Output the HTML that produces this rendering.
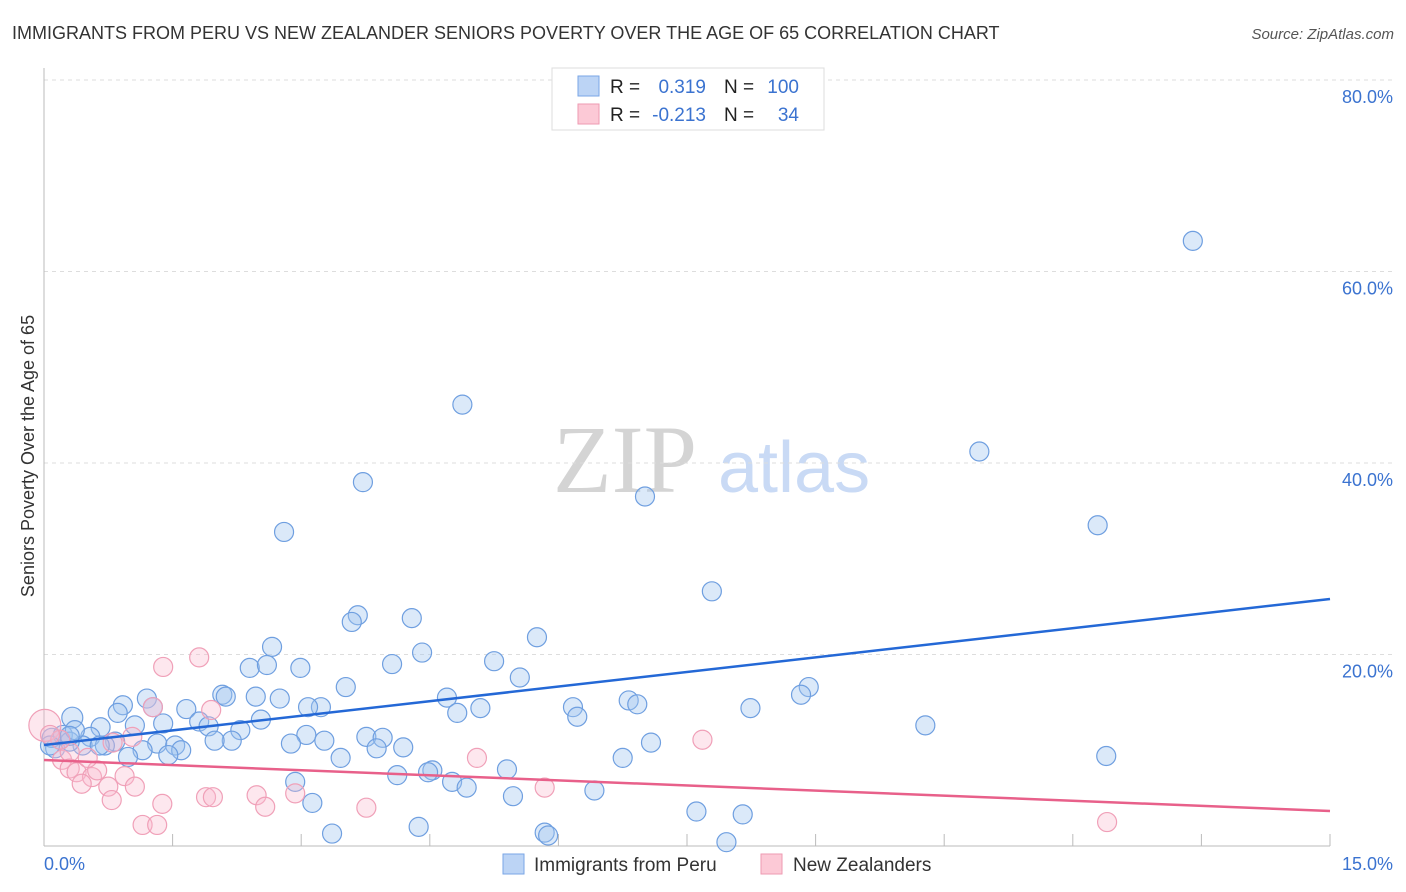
<!DOCTYPE html>
<html><head><meta charset="utf-8"><style>
body{margin:0;background:#fff;font-family:"Liberation Sans",sans-serif}
#wrap{position:relative;width:1406px;height:892px;overflow:hidden}
svg text{font-family:"Liberation Sans",sans-serif}
</style></head><body>
<div id="wrap">
<svg id="c" width="1406" height="892">
<text x="12" y="39" font-size="18" fill="#333">IMMIGRANTS FROM PERU VS NEW ZEALANDER SENIORS POVERTY OVER THE AGE OF 65 CORRELATION CHART</text>
<text x="1394" y="39" font-size="15" fill="#555" font-style="italic" text-anchor="end">Source: ZipAtlas.com</text>
<text x="34" y="456" font-size="18" fill="#333" text-anchor="middle" transform="rotate(-90 34 456)">Seniors Poverty Over the Age of 65</text>
<text x="553" y="492" font-size="96" fill="#d4d4d4" style="font-family:'Liberation Serif',serif">ZIP</text>
<text x="718" y="492" font-size="72" fill="#c9daf5">atlas</text>
<g id="grid"></g><g id="pts"></g><g id="lines"></g>
<g>
<rect x="552" y="68" width="272" height="62" fill="#fff" stroke="#ddd"/>
<rect x="578" y="76" width="21" height="20" fill="#bcd4f5" stroke="#7aa6e6"/>
<rect x="578" y="104" width="21" height="20" fill="#fcc9d6" stroke="#ee9ab2"/>
<text x="610" y="93" font-size="19" fill="#222">R = </text><text x="706" y="93" font-size="19" fill="#3b73d0" text-anchor="end">0.319</text>
<text x="724" y="93" font-size="19" fill="#222">N = </text><text x="799" y="93" font-size="19" fill="#3b73d0" text-anchor="end">100</text>
<text x="610" y="121" font-size="19" fill="#222">R = </text><text x="706" y="121" font-size="19" fill="#3b73d0" text-anchor="end">-0.213</text>
<text x="724" y="121" font-size="19" fill="#222">N = </text><text x="799" y="121" font-size="19" fill="#3b73d0" text-anchor="end">34</text>
</g>
<g>
<rect x="503" y="854" width="21" height="20" fill="#bcd4f5" stroke="#7aa6e6"/>
<text x="534" y="871" font-size="19" fill="#333">Immigrants from Peru</text>
<rect x="761" y="854" width="21" height="20" fill="#fcc9d6" stroke="#ee9ab2"/>
<text x="793" y="871" font-size="19" fill="#333">New Zealanders</text>
</g>
</svg></div>
<script>
const blueX=[13.40,4.88,10.91,3.72,7.01,12.29,2.80,7.79,3.66,3.59,4.29,5.75,2.66,4.41,5.25,2.99,2.40,2.60,4.06,5.55,3.52,8.92,8.83,4.70,2.08,2.12,2.47,2.75,1.20,0.92,1.66,3.23,3.08,6.17,6.82,6.92,8.24,5.09,0.86,1.27,4.82,6.22,2.53,1.39,1.81,1.06,1.92,10.28,0.66,2.29,3.06,0.33,0.54,0.83,2.19,1.99,1.32,1.53,3.76,3.95,3.27,2.88,4.19,3.88,7.08,0.71,1.15,1.60,1.45,0.98,0.45,0.19,0.13,0.09,3.46,6.75,12.39,5.40,4.12,4.53,4.48,4.76,4.93,2.93,6.42,5.47,3.13,7.61,8.15,4.37,5.84,3.36,5.88,7.96,0.22,0.07,0.65,0.30,0.36,0.30];
const blueY=[63.2,46.1,41.2,38.0,36.5,33.5,32.8,26.6,24.1,23.4,23.8,21.8,20.8,20.2,19.3,18.6,18.6,18.9,19.0,17.6,16.6,16.6,15.8,15.5,15.8,15.6,15.6,15.4,15.4,14.7,14.3,14.5,14.5,14.5,15.2,14.8,14.4,14.4,13.9,14.5,13.9,13.5,13.2,12.8,13.0,12.6,12.5,12.6,12.4,12.1,11.6,13.4,11.4,10.9,11.0,11.0,10.7,10.5,11.4,11.3,11.0,10.7,10.3,10.2,10.8,10.5,10.0,10.0,9.5,9.3,10.5,11.1,10.2,11.3,9.2,9.2,9.4,8.0,7.4,7.9,7.7,6.7,6.1,6.7,5.8,5.2,4.5,3.6,3.3,2.0,1.4,1.3,1.1,0.4,11.6,10.5,10.5,10.9,12.1,11.5];
const pinkX=[0.01,1.39,1.81,1.95,1.27,1.03,0.80,0.21,0.30,0.38,0.56,0.62,0.44,0.75,0.94,1.06,0.79,1.38,1.89,1.97,2.48,2.58,2.93,3.76,5.05,5.84,7.68,12.40,1.15,1.32,0.30,0.51,0.19,0.07];
const pinkY=[12.6,18.7,19.7,14.2,14.5,11.4,10.8,9.0,8.1,7.7,7.2,7.9,6.5,6.2,7.3,6.2,4.8,4.4,5.1,5.1,5.3,4.1,5.5,4.0,9.2,6.1,11.1,2.5,2.2,2.2,9.8,9.2,11.1,11.6];
const blueTrend=[10.55,25.8];
const pinkTrend=[8.98,3.66];
const yTicks=[20,40,60,80];
const xTickLabels=["0.0%","15.0%"];
const NS="http://www.w3.org/2000/svg";
const X0=44,X1=1330,Y0=846,YT=80;
const sx=v=>X0+v/15*(X1-X0);
const sy=v=>Y0-v/80*(Y0-YT);
function mk(t,a,p){const e=document.createElementNS(NS,t);for(const k in a)e.setAttribute(k,a[k]);p.appendChild(e);return e;}
const g=document.getElementById('grid');
yTicks.forEach(v=>{
 const l=mk('line',{x1:X0,x2:1394,y1:sy(v),y2:sy(v),stroke:'#ddd','stroke-dasharray':'4,4'},g);
 
 
 const t=mk('text',{x:1393,y:sy(v)+23,'font-size':18,fill:'#3b73d0','text-anchor':'end'},g);
 t.textContent=v.toFixed(1)+'%';
 
 
});
const ax=mk('line',{x1:X0,x2:X0,y1:68,y2:Y0,stroke:'#bbb'},g);


const bx=mk('line',{x1:X0,x2:X1,y1:Y0,y2:Y0,stroke:'#bbb'},g);


for(let i=1;i<=10;i++){const tk=mk('line',{x1:sx(i*1.5),x2:sx(i*1.5),y1:Y0-12,y2:Y0,stroke:'#bbb'},g);
 
 }
const xl0=mk('text',{x:44,y:870,'font-size':18,fill:'#3b73d0'},g);xl0.textContent=xTickLabels[0];


const xl1=mk('text',{x:1393,y:870,'font-size':18,fill:'#3b73d0','text-anchor':'end'},g);xl1.textContent=xTickLabels[1];


const p=document.getElementById('pts');
blueX.forEach((x,i)=>{const c=mk('circle',{cx:sx(x),cy:sy(blueY[i]),r:i==51?10.5:9.5,fill:'rgba(160,196,240,0.38)',stroke:'#6f9fe0','stroke-width':1.2},p);
 
 });
pinkX.forEach((x,i)=>{const c=mk('circle',{cx:sx(x),cy:sy(pinkY[i]),r:i==0?16:9.5,fill:'rgba(250,185,205,0.35)',stroke:'#f0a0b8','stroke-width':1.2},p);
 
 });
const L=document.getElementById('lines');
const bl=mk('line',{x1:sx(0),y1:sy(blueTrend[0]),x2:sx(15),y2:sy(blueTrend[1]),stroke:'#2468d6','stroke-width':2.5},L);


const pl=mk('line',{x1:sx(0),y1:sy(pinkTrend[0]),x2:sx(15),y2:sy(pinkTrend[1]),stroke:'#e8608a','stroke-width':2.5},L);


</script>
</body></html>
